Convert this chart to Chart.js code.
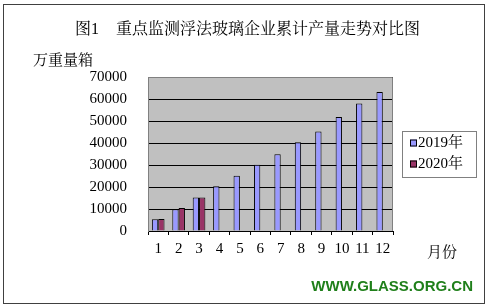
<!DOCTYPE html>
<html>
<head>
<meta charset="utf-8">
<script src="https://cdn.jsdelivr.net/npm/chart.js@4.4.1/dist/chart.umd.min.js"></script>
<style>
    body { margin: 0; background: #fff; }
    #wrap { width: 487px; height: 308px; position: relative; }
</style>
</head>
<body>
<div id="wrap"><canvas id="chart"></canvas></div>
<script>
const months = ["1", "2", "3", "4", "5", "6", "7", "8", "9", "10", "11", "12"];
const output2019 = [5300, 9900, 15200, 20300, 25100, 30100, 34900, 40300, 45200, 51800, 58000, 63200];
const output2020 = [5500, 10400, 15200, null, null, null, null, null, null, null, null, null];
const seriesNames = ["2019年", "2020年"];
const yTicks = [0, 10000, 20000, 30000, 40000, 50000, 60000, 70000];

const serif = '"Liberation Serif", "Noto Serif CJK SC", "Noto Sans CJK SC", serif';

// frame, title, unit text, legend and watermark
const decor = {
    id: "decor",
    beforeDraw(chart) {
        const ctx = chart.ctx;
        const a = chart.chartArea;
        ctx.save();
        ctx.fillStyle = "#fff";
        ctx.fillRect(0, 0, chart.width, chart.height);
        ctx.fillStyle = "#c0c0c0";
        ctx.fillRect(a.left, a.top, a.right - a.left, a.bottom - a.top);
        ctx.restore();
    },
    afterDraw(chart) {
        const ctx = chart.ctx;
        const a = chart.chartArea;
        ctx.save();
        // plot border top/right
        ctx.strokeStyle = "#808080";
        ctx.lineWidth = 1;
        ctx.beginPath();
        ctx.moveTo(a.left, a.top + 0.5);
        ctx.lineTo(a.right - 0.5, a.top + 0.5);
        ctx.lineTo(a.right - 0.5, a.bottom);
        ctx.stroke();

        // outer frame
        ctx.strokeStyle = "#404040";
        ctx.strokeRect(3.5, 4.5, 481, 299);

        ctx.fillStyle = "#000";
        ctx.textBaseline = "middle";
        ctx.font = "16px " + serif;
        ctx.textAlign = "left";
        ctx.fillText("图1", 75, 30);
        ctx.fillText("重点监测浮法玻璃企业累计产量走势对比图", 116, 30);

        ctx.font = "15px " + serif;
        ctx.fillText("万重量箱", 33, 61);
        ctx.fillText("月份", 427, 253);

        // legend
        ctx.strokeStyle = "#808080";
        ctx.strokeRect(402.5, 131.5, 74, 46);
        chart.data.datasets.forEach((ds, i) => {
            const y = 143 + i * 21;
            ctx.fillStyle = ds.backgroundColor;
            ctx.fillRect(410, y - 3.5, 7, 7);
            ctx.strokeStyle = "#000";
            ctx.strokeRect(410.5, y - 3, 6, 6);
            ctx.fillStyle = "#000";
            ctx.fillText(ds.label, 418, y);
        });

        // watermark
        ctx.fillStyle = "#1f7f1a";
        ctx.font = 'bold 15px "Liberation Sans", Arial, sans-serif';
        ctx.textAlign = "right";
        ctx.fillText("WWW.GLASS.ORG.CN", 473, 287);
        ctx.restore();
    }
};

new Chart(document.getElementById("chart"), {
    type: "bar",
    data: {
        labels: months,
        datasets: [
            { label: seriesNames[0], data: output2019, backgroundColor: "#9999ff", borderColor: "#000", borderWidth: 1 },
            { label: seriesNames[1], data: output2020, backgroundColor: "#993366", borderColor: "#000", borderWidth: 1 }
        ]
    },
    options: {
        responsive: true,
        maintainAspectRatio: false,
        animation: false,
        layout: { padding: { left: 0, top: 77, right: 94, bottom: 0 } },
        plugins: {
            legend: { display: false },
            tooltip: { enabled: false }
        },
        datasets: {
            bar: { categoryPercentage: 0.62, barPercentage: 1.0 }
        },
        scales: {
            x: {
                afterFit: s => { s.height = 77; },
                grid: { offset: true, drawOnChartArea: false, drawTicks: true, tickLength: 4, color: "#000" },
                border: { color: "#000" },
                ticks: { color: "#000", padding: 5, maxRotation: 0, autoSkip: false, font: { family: serif, size: 15 } }
            },
            y: {
                min: 0,
                max: 70000,
                afterFit: s => { s.width = 148; },
                afterBuildTicks: s => { s.ticks = yTicks.map(v => ({ value: v })); },
                grid: { color: "#000", drawTicks: false },
                border: { color: "#808080" },
                ticks: { color: "#000", padding: 21, font: { family: serif, size: 15 }, callback: v => String(v) }
            }
        }
    },
    plugins: [decor]
});
</script>
</body>
</html>
